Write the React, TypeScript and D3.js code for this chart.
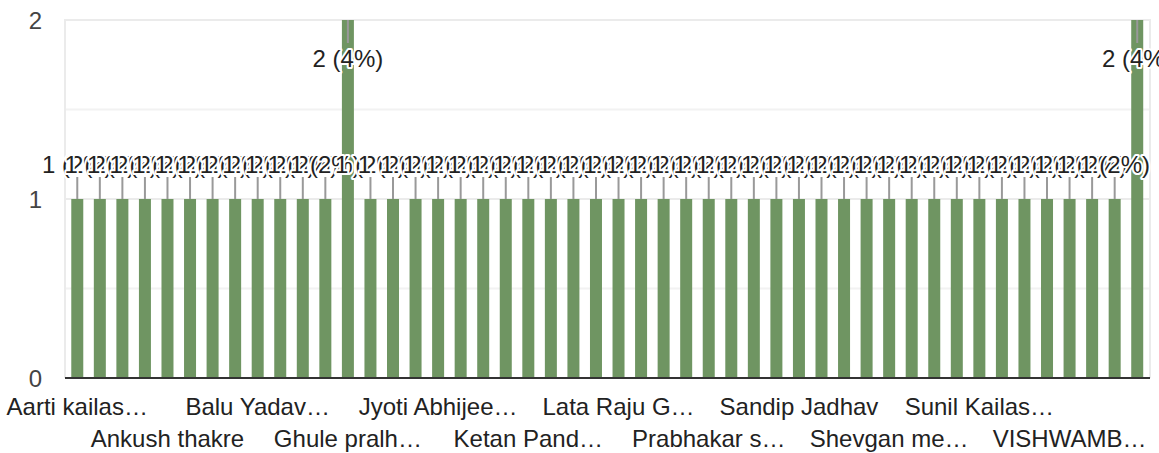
import React from "react";
import * as d3 from "d3";

const categories: string[] = [
  "Aarti kailash Pawar", "Abhijeet More", "Ajay Shinde", "Amol Jadhav",
  "Ankush thakre", "Arjun Kale", "Ashok Pawar", "Babasaheb Shelke",
  "Balu Yadavrao Patil", "Bharat Kadam", "Dattatray Mane", "Ganesh Bhosale",
  "Ghule pralhad Rao", "Gopal Deshmukh", "Harish Wagh", "Jayashri Salve",
  "Jyoti Abhijeet Kulkarni", "Kailas Thorat", "Kavita Sonawane", "Kedar Joshi",
  "Ketan Pandit", "Kiran Jagtap", "Kunal Borse", "Kusum Shirsat",
  "Lata Raju Gaikwad", "Mahesh Dhage", "Manisha Kamble", "Nitin Chavan",
  "Prabhakar shinde", "Pravin Kote", "Rahul Sable", "Rajesh Mhaske",
  "Sandip Jadhav", "Sanjay Lokhande", "Santosh Bhagat", "Sharad Ingle",
  "Shevgan mehboob", "Shivaji Rathod", "Sonali Gavhane", "Sudhakar Ghuge",
  "Sunil Kailas Wagh", "Suresh Nagare", "Swati Pardeshi", "Vaibhav Khandare",
  "VISHWAMBHAR DHAKNE", "Vitthal Sarode", "Vrushali Kale", "Yogesh Dound",
];

const values: number[] = [
  1, 1, 1, 1, 1, 1, 1, 1, 1, 1, 1, 1,
  2, 1, 1, 1, 1, 1, 1, 1, 1, 1, 1, 1,
  1, 1, 1, 1, 1, 1, 1, 1, 1, 1, 1, 1,
  1, 1, 1, 1, 1, 1, 1, 1, 1, 1, 1, 2,
];

// visible (truncated) axis labels, shown every 4th category
const tickLabels: string[] = [
  "Aarti kailas…", "Ankush thakre", "Balu Yadav…", "Ghule pralh…",
  "Jyoti Abhijee…", "Ketan Pand…", "Lata Raju G…", "Prabhakar s…",
  "Sandip Jadhav", "Shevgan me…", "Sunil Kailas…", "VISHWAMB…",
];

const yTicks: number[] = [0, 1, 2];
const yMinorTicks: number[] = [0.5, 1.5];

const W = 1159;
const H = 453;
const FONT = "'Liberation Sans', Arial, sans-serif";

export default function App() {
  const left = 66;
  const right = 1148.5;
  const top = 20;
  const bottom = 378;
  const total = d3.sum(values);

  const x = d3
    .scaleBand<string>()
    .domain(categories)
    .range([left, right])
    .paddingInner(0.468)
    .paddingOuter(0.234);
  const y = d3.scaleLinear().domain([0, 2]).range([bottom, top]);

  const bw = x.bandwidth();

  return (
    <div style={{ position: "absolute", left: 0, top: 0 }}>
      <svg width={W} height={H} style={{ display: "block", fontFamily: FONT }}>
        <rect x={0} y={0} width={W} height={H} fill="#fff" />
        {/* minor gridlines */}
        {yMinorTicks.map((t) => (
          <line key={"m" + t} x1={left - 1} x2={1151} y1={y(t)} y2={y(t)} stroke="#f2f2f2" strokeWidth={2} />
        ))}
        {/* major gridlines */}
        {yTicks.filter((t) => t !== 0).map((t) => (
          <line key={"g" + t} x1={left - 1} x2={1151} y1={y(t)} y2={y(t)} stroke="#ebebeb" strokeWidth={2} />
        ))}
        {/* frame verticals */}
        <line x1={left - 1} x2={left - 1} y1={top - 1} y2={bottom} stroke="#ebebeb" strokeWidth={2} />
        <line x1={1150} x2={1150} y1={top - 1} y2={bottom} stroke="#ebebeb" strokeWidth={2} />

        {/* bars */}
        {categories.map((c, i) => (
          <rect
            key={c}
            x={x(c)!}
            y={y(values[i])}
            width={bw}
            height={y(0) - y(values[i])}
            fill="#6f9562"
          />
        ))}

        {/* baseline */}
        <line x1={left - 1} x2={1150} y1={y(0)} y2={y(0)} stroke="#333" strokeWidth={2} />

        {/* y axis labels */}
        {yTicks.map((t) => (
          <text
            key={"y" + t}
            x={42}
            y={y(t)}
            dy="0.36em"
            textAnchor="end"
            fontSize={24}
            fill="#444"
          >
            {t}
          </text>
        ))}

        {/* annotations */}
        {categories.map((c, i) => {
          const v = values[i];
          const cx = x(c)! + bw / 2;
          const yt = y(v);
          const inside = yt - 50 < top;
          const s1 = inside ? yt : yt;
          const s2 = inside ? yt + 23 : yt - 22;
          const base = inside ? yt + 47 : yt - 26;
          const label = `${v} (${Math.round((v / total) * 100)}%)`;
          return (
            <g key={"a" + c}>
              <line x1={cx} x2={cx} y1={s1} y2={s2} stroke="#999" strokeWidth={2} />
              <text
                x={cx}
                y={base}
                textAnchor="middle"
                fontSize={24}
                fill="#222"
                stroke="#fff"
                strokeWidth={4}
                strokeLinejoin="round"
                style={{ paintOrder: "stroke" }}
              >
                {label}
              </text>
            </g>
          );
        })}

        {/* x axis labels */}
        {tickLabels.map((t, k) => {
          const c = categories[k * 4];
          const cx = x(c)! + bw / 2;
          return (
            <text
              key={"x" + k}
              x={cx}
              y={k % 2 === 0 ? 415 : 447}
              textAnchor="middle"
              fontSize={24}
              fill="#222"
            >
              {t}
            </text>
          );
        })}
      </svg>
    </div>
  );
}
